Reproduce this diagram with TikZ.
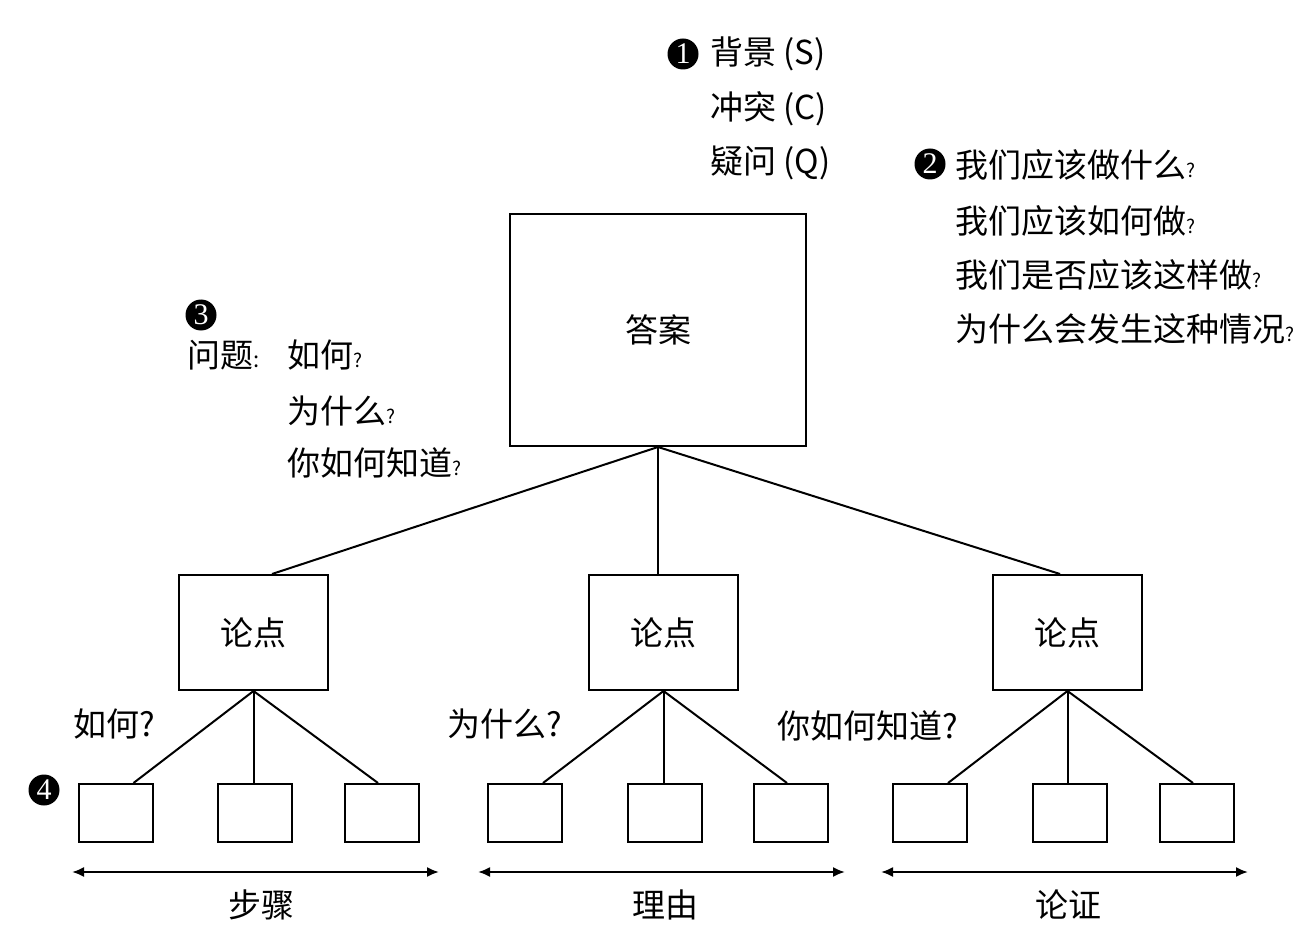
\documentclass[tikz,border=0pt]{standalone}
\usepackage{fontspec}
\setmainfont{Noto Sans CJK SC}
\newfontfamily\numfont{Liberation Serif}
\usetikzlibrary{arrows.meta,calc}
\newcommand{\smq}{{\fontsize{19}{19}\selectfont ?}}
\newcommand{\smc}{{\fontsize{22}{22}\selectfont :}}
\begin{document}
\begin{tikzpicture}[x=1pt,y=-1pt,
  every node/.style={inner sep=0pt, font=\fontsize{33}{40}\selectfont},
  txt/.style={anchor=west},
  num/.style={circle, fill=black, minimum size=31pt, text=white, font=\numfont\fontsize{30}{30}\selectfont},
  bigbox/.style={draw, line width=2pt, minimum width=296pt, minimum height=232pt},
  ptbox/.style={draw, line width=2pt, minimum width=149pt, minimum height=115pt},
  smbox/.style={draw, line width=2pt, minimum width=74pt, minimum height=58pt},
  conn/.style={line width=2pt},
  spanarrow/.style={line width=2pt, {Latex[length=12pt,width=10pt]}-{Latex[length=12pt,width=10pt]}}
]
\useasboundingbox (0,0) rectangle (1313,949);

% list 1
\node[num] (n1) at (683,54) {1};
\node[txt] (s1) at (710,54) {背景 (S)};
\node[txt] (s2) at (710,109) {冲突 (C)};
\node[txt] (s3) at (710,163) {疑问 (Q)};

% list 2
\node[num] (n2) at (930,164) {2};
\node[txt] (q1) at (955,165) {我们应该做什么\smq};
\node[txt] (q2) at (955,221) {我们应该如何做\smq};
\node[txt] (q3) at (955,275) {我们是否应该这样做\smq};
\node[txt] (q4) at (955,329) {为什么会发生这种情况\smq};

% list 3
\node[num] (n3) at (201,315) {3};
\node[txt] (w0) at (187,355) {问题\smc};
\node[txt] (w1) at (287,355) {如何\smq};
\node[txt] (w2) at (287,411) {为什么\smq};
\node[txt] (w3) at (287,463) {你如何知道\smq};

% answer
\node[bigbox] (ans) at (658,330) {答案};

% points
\node[ptbox] (p1) at (253.5,632.5) {论点};
\node[ptbox] (p2) at (663.5,632.5) {论点};
\node[ptbox] (p3) at (1067.5,632.5) {论点};

\draw[conn] (ans.south) -- ([xshift=18.5pt]p1.north);
\draw[conn] (ans.south) -- (ans.south |- p2.north);
\draw[conn] (ans.south) -- ([xshift=-7.5pt]p3.north);

% small boxes
\node[smbox] (b11) at (115.5,813) {};
\node[smbox] (b12) at (255,813) {};
\node[smbox] (b13) at (382,813) {};
\node[smbox] (b21) at (525,813) {};
\node[smbox] (b22) at (665,813) {};
\node[smbox] (b23) at (791,813) {};
\node[smbox] (b31) at (930,813) {};
\node[smbox] (b32) at (1069.5,813) {};
\node[smbox] (b33) at (1197,813) {};

\draw[conn] (p1.south) -- ([xshift=18pt]b11.north);
\draw[conn] (p1.south) -- (p1.south |- b12.north);
\draw[conn] (p1.south) -- ([xshift=-4pt]b13.north);
\draw[conn] (p2.south) -- ([xshift=18pt]b21.north);
\draw[conn] (p2.south) -- (p2.south |- b22.north);
\draw[conn] (p2.south) -- ([xshift=-4pt]b23.north);
\draw[conn] (p3.south) -- ([xshift=18pt]b31.north);
\draw[conn] (p3.south) -- (p3.south |- b32.north);
\draw[conn] (p3.south) -- ([xshift=-4pt]b33.north);

% question labels
\node[txt] (l1) at (73,724) {如何?};
\node[txt] (l2) at (447,724) {为什么?};
\node[txt] (l3) at (777,726) {你如何知道?};
\node[num] (n4) at (44,790) {4};

% spans
\coordinate (a1) at (72,872);
\coordinate (a2) at (439,872);
\coordinate (a3) at (478,872);
\coordinate (a4) at (845,872);
\coordinate (a5) at (881,872);
\coordinate (a6) at (1248,872);
\draw[spanarrow] (a1) -- (a2);
\draw[spanarrow] (a3) -- (a4);
\draw[spanarrow] (a5) -- (a6);
\node (t1) at (261,905) {步骤};
\node (t2) at (665,905) {理由};
\node (t3) at (1068,905) {论证};
\end{tikzpicture}
\end{document}
